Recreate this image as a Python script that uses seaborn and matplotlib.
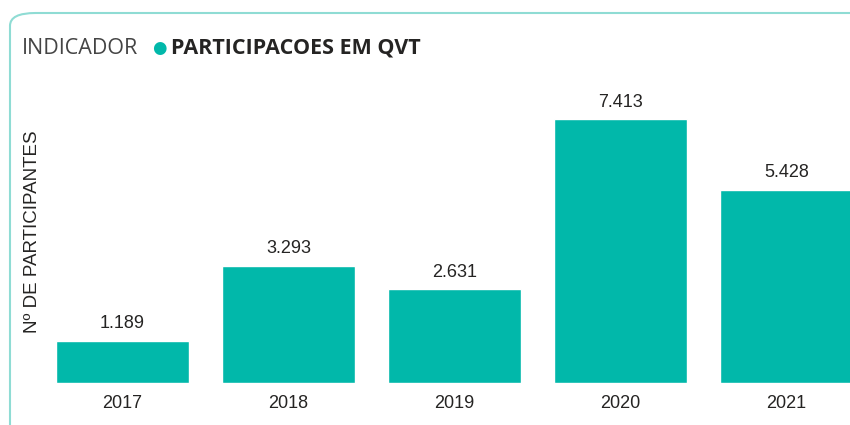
import pandas as pd
import matplotlib.pyplot as plt
import seaborn as sns
from matplotlib.patches import FancyBboxPatch

# Data
anos = ["2017", "2018", "2019", "2020", "2021"]
participantes = [1189, 3293, 2631, 7413, 5428]
rotulos = ["1.189", "3.293", "2.631", "7.413", "5.428"]

df = pd.DataFrame({"ano": anos, "participantes": participantes})

sns.set_style("white")
plt.rcParams['font.family'] = ['Liberation Sans', 'DejaVu Sans']

fig = plt.figure(figsize=(8.5, 4.25), dpi=100)

# rounded card border (cropped on right/bottom like the screenshot)
card = FancyBboxPatch((10 / 850, -0.2), 1.2, (425 - 13) / 425 + 0.2,
                      boxstyle="round,pad=0,rounding_size=0.03",
                      transform=fig.transFigure, facecolor="none",
                      edgecolor="#8fdcd4", linewidth=1.5, zorder=-1)
fig.patches.append(card)

ax = fig.add_axes([39.5 / 850, 42 / 425, 1 - 39.5 / 850, 293 / 425])
ax.set_facecolor("none")

sns.barplot(data=df, x="ano", y="participantes", color="#01B8AA",
            width=0.8, saturation=1, ax=ax)

ax.set_xlim(-0.5, (850 - 122.5) / 166)
ax.set_ylim(0, 293 / (264 / 7413))

for i, (v, lab) in enumerate(zip(participantes, rotulos)):
    ax.annotate(lab, (i, v), xytext=(0, 6), textcoords="offset points",
                ha="center", va="bottom", fontsize=13, color="#252423")

ax.set_xlabel("")
ax.set_ylabel("")
ax.set_yticks([])
ax.tick_params(axis="x", length=0, labelsize=13, labelcolor="#252423", pad=9)
sns.despine(ax=ax, left=True, bottom=True)

fig.text(33 / 850, 1 - 232 / 425, "Nº DE PARTICIPANTES", rotation=90,
         fontsize=13.5, color="#252423", ha="center", va="center")

# legend line at top
fig.text(22 / 850, 1 - 48 / 425, "INDICADOR", fontsize=15.5, color="#444444",
         va="center", ha="left", family=["Open Sans", "DejaVu Sans"])
fig.text(159 / 850, 1 - 48 / 425, "●", fontsize=12, color="#01B8AA",
         va="center", ha="center", family="DejaVu Sans")
fig.text(171 / 850, 1 - 48 / 425, "PARTICIPACOES EM QVT", fontsize=15.5,
         color="#252423", fontweight="bold", va="center", ha="left",
         family=["Open Sans", "DejaVu Sans"])

plt.savefig("out.png", dpi=100)
